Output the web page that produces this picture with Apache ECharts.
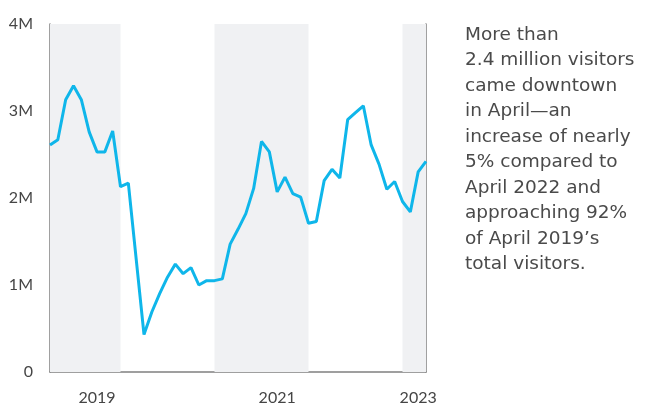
<!DOCTYPE html>
<html>
<head>
<meta charset="utf-8">
<script src="https://cdn.jsdelivr.net/npm/echarts@6/dist/echarts.min.js"></script>
<style>
  html, body { margin: 0; padding: 0; background: #fff; }
  #chart { width: 649px; height: 408px; }
</style>
</head>
<body>
<div id="chart"></div>
<script>
// monthly visitors downtown, Apr 2019 - Apr 2023 (millions)
const months = [];
for (let i = 0; i < 49; i++) {
  const y = 2019 + Math.floor((3 + i) / 12);
  const m = ((3 + i) % 12) + 1;
  months.push(y + '-' + (m < 10 ? '0' + m : m));
}

const visitors = [
  2.61, 2.67, 3.13, 3.29, 3.13, 2.76, 2.53, 2.53, 2.77, 2.13,
  2.17, 1.30, 0.43, 0.69, 0.90, 1.09, 1.24, 1.13, 1.20, 1.00,
  1.05, 1.05, 1.07, 1.47, 1.64, 1.82, 2.11, 2.65, 2.53, 2.07,
  2.24, 2.05, 2.01, 1.71, 1.73, 2.20, 2.33, 2.23, 2.90, 2.98,
  3.06, 2.61, 2.39, 2.10, 2.19, 1.96, 1.84, 2.30, 2.42
];

// shaded years (start month, end month)
const bands = [['2019-04', '2020-01'], ['2021-01', '2022-01'], ['2023-01', '2023-04']];

// x tick labels and the month they sit under
const yearLabels = ['2019', '2021', '2023'];
const yearLabelAt = ['2019-10', '2021-09', '2023-03'];

const yTicks = [0, 1, 2, 3, 4];

const chart = echarts.init(document.getElementById('chart'));

const axisColor = '#808080';
const textColor = '#454545';

chart.setOption({
  animation: false,
  grid: {
    left: 50,
    right: 223,
    top: 24,
    bottom: 36
  },
  xAxis: {
    type: 'category',
    data: months,
    boundaryGap: false,
    axisLine: { lineStyle: { color: axisColor, width: 1.5 } },
    axisTick: { show: false },
    axisLabel: {
      interval: (idx, val) => yearLabelAt.includes(val),
      formatter: val => yearLabels[yearLabelAt.indexOf(val)],
      color: textColor,
      fontFamily: 'Lato',
      fontSize: 16,
      margin: 18
    },
    splitLine: { show: false }
  },
  yAxis: [
    {
      type: 'value',
      min: yTicks[0],
      max: yTicks[yTicks.length - 1],
      interval: 1,
      axisLine: { show: true, lineStyle: { color: axisColor, width: 1.5 } },
      axisTick: { show: false },
      splitLine: { show: false },
      axisLabel: {
        formatter: v => (v === 0 ? '0' : v + 'M'),
        color: textColor,
        fontFamily: 'Lato',
        fontSize: 16,
        margin: 17,
        padding: [0, 0, 9, 0]
      }
    },
    {
      type: 'value',
      position: 'right',
      min: yTicks[0],
      max: yTicks[yTicks.length - 1],
      interval: 1,
      axisLine: { show: true, lineStyle: { color: axisColor, width: 1.5 } },
      axisTick: { show: false },
      axisLabel: { show: false },
      splitLine: { show: false }
    }
  ],
  series: [
    {
      type: 'line',
      data: visitors,
      showSymbol: false,
      symbol: 'none',
      lineStyle: { color: '#0fb6ea', width: 3 },
      markArea: {
        silent: true,
        itemStyle: { color: '#f0f1f3' },
        data: bands.map(b => [{ xAxis: b[0] }, { xAxis: b[1] }])
      },
      z: 3
    }
  ],
  graphic: [
    {
      type: 'text',
      left: 465,
      top: 22,
      style: {
        text: 'More than\n2.4 million visitors\ncame downtown\nin April\u2014an\nincrease of nearly\n5% compared to\nApril 2022 and\napproaching 92%\nof April 2019\u2019s\ntotal visitors.',
        fill: '#4a4a4a',
        fontFamily: 'DejaVu Sans',
        fontSize: 18.5,
        lineHeight: 25.5
      }
    }
  ]
});

window.addEventListener('resize', () => {
  if (chart) {
    chart.resize();
  }
});
</script>
</body>
</html>
